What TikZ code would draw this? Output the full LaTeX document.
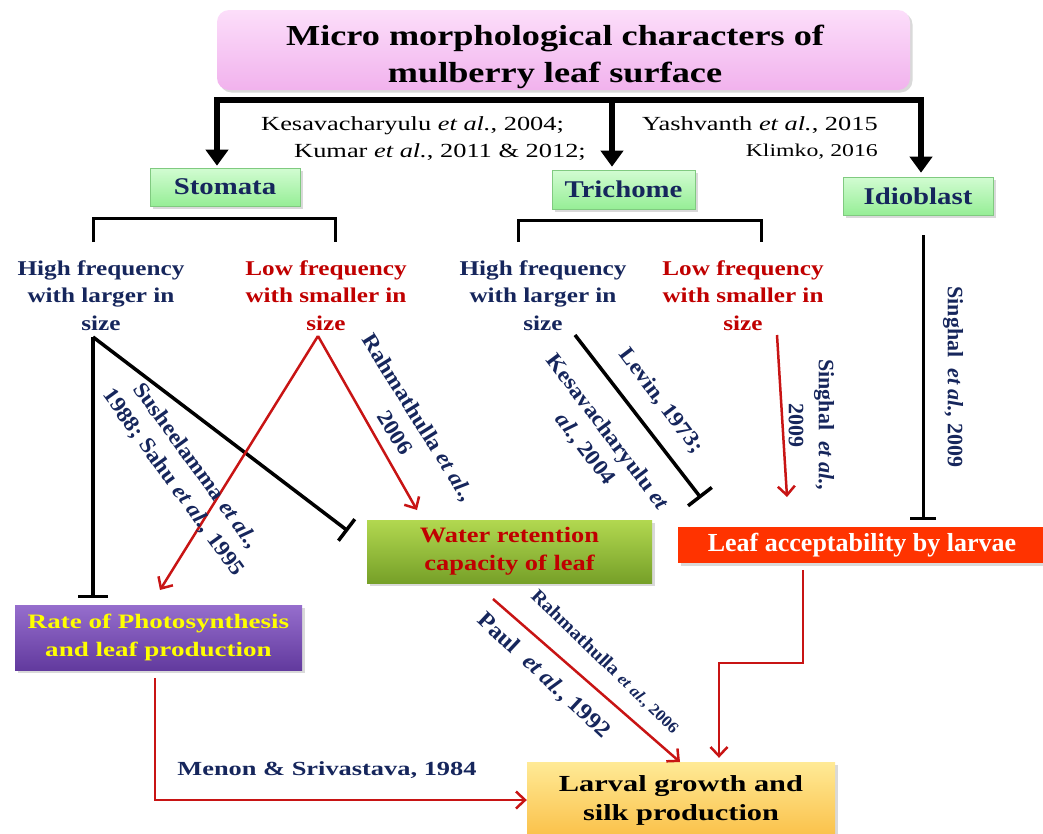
\documentclass[tikz,border=0pt]{standalone}
\usepackage{fontspec}
\setmainfont{Liberation Serif}
\newfontfamily\wideA{Liberation Serif}[FakeStretch=1.32]
\newfontfamily\wideB{Liberation Serif}[FakeStretch=1.2]
\newfontfamily\wideT{Liberation Serif}[FakeStretch=1.25]
\newfontfamily\rotf{Liberation Serif}[FakeStretch=1.08]
\usetikzlibrary{arrows.meta,shadows}
\definecolor{navy}{RGB}{22,38,92}
\definecolor{dred}{RGB}{192,0,0}
\definecolor{arrred}{RGB}{200,20,20}
\definecolor{pinkT}{RGB}{252,222,250}
\definecolor{pinkB}{RGB}{241,178,237}
\definecolor{grT}{RGB}{210,252,210}
\definecolor{grB}{RGB}{150,238,150}
\definecolor{olT}{RGB}{178,216,80}
\definecolor{olB}{RGB}{118,160,40}
\definecolor{puT}{RGB}{150,110,205}
\definecolor{puB}{RGB}{98,58,158}
\definecolor{orT}{RGB}{255,234,150}
\definecolor{orB}{RGB}{250,192,72}
\definecolor{leafred}{RGB}{255,51,0}
\definecolor{yel}{RGB}{255,255,0}
\tikzset{
  shad/.style={drop shadow={opacity=0.3,shadow xshift=2.5pt,shadow yshift=-2.5pt}},
  box/.style={inner sep=0pt,align=center,shad},
  titlebox/.style={box,rounded corners=12pt,top color=pinkT,bottom color=pinkB},
  gbox/.style={box,top color=grT,bottom color=grB,draw=grB!85!black,line width=0.6pt,
    text=navy,font=\wideB\bfseries\fontsize{24}{26}\selectfont},
  freq/.style={inner sep=0pt,align=center,anchor=north,
    font=\wideB\bfseries\fontsize{21}{27.5}\selectfont},
  cite/.style={inner sep=0pt,font=\wideA\fontsize{20}{24}\selectfont},
  rotlab/.style={inner sep=0pt,align=center,text=navy,
    font=\rotf\bfseries\fontsize{22}{28}\selectfont},
  bigbar/.style={line width=6pt,draw=black},
  blk/.style={line width=3.5pt,draw=black},
  tbar/.style={-{Bar[width=30pt,line width=3.5pt]}},
  bracket/.style={line width=3pt,draw=black},
  redarr/.style={line width=2.5pt,draw=arrred,-{Straight Barb[length=9pt,width=17pt,line width=2.5pt]}}
}
\begin{document}
\begin{tikzpicture}[x=1pt,y=-1pt]
\useasboundingbox (0,0) rectangle (1043,833);

% title
\node[titlebox,minimum width=693pt,minimum height=80pt] (titlebg) at (563.5,50) {};
\node[inner sep=0pt,align=center,font=\wideT\bfseries\fontsize{29}{37}\selectfont,anchor=base]
  (title) at (555,82) {Micro morphological characters of\\mulberry leaf surface};

% top bar and arrows
\coordinate (bL) at (217,100);
\coordinate (bM) at (612,100);
\coordinate (bR) at (921,100);

% category boxes
\node[gbox,minimum width=150pt,minimum height=38pt] (stom) at (225,187) {Stomata};
\node[gbox,minimum width=143pt,minimum height=39pt] (tric) at (623.5,189.5) {Trichome};
\node[gbox,minimum width=150pt,minimum height=38pt] (idio) at (918,196) {Idioblast};

\draw[bigbar,{Triangle[width=22pt,length=16pt]}-{Triangle[width=22pt,length=16pt]},shorten <=2pt,shorten >=4pt]
  (bL |- stom.north) -- (bL) -- (bR) -- (bR |- idio.north);
\draw[bigbar,-{Triangle[width=22pt,length=16pt]},shorten >=3pt] (bM) -- (bM |- tric.north);

% citations
\node[cite,anchor=base west] (c1) at (261,130) {Kesavacharyulu \textit{et al.}, 2004;};
\node[cite,anchor=base east] (c2) at (586,157) {Kumar \textit{et al.}, 2011 \& 2012;};
\node[cite,anchor=base east] (c3) at (878,130) {Yashvanth \textit{et al.}, 2015};
\node[cite,anchor=base east,font=\wideA\fontsize{18}{22}\selectfont] (c4) at (878,156) {Klimko, 2016};

% brackets
\coordinate (sbL) at (93,242);
\coordinate (sbR) at (335,242);
\coordinate (tbL) at (518,242);
\coordinate (tbR) at (761,242);
\draw[bracket] (sbL) -- ++(0,-24) -| (sbR);
\draw[bracket] (tbL) -- ++(0,-22) -| (tbR);

% frequency texts
\node[freq,text=navy] (shi) at (101,260.5) {High frequency\\with larger in\\size};
\node[freq,text=dred] (slo) at (326,260.5) {Low frequency\\with smaller in\\size};
\node[freq,text=navy] (thi) at (543,260.5) {High frequency\\with larger in\\size};
\node[freq,text=dred] (tlo) at (743,260.5) {Low frequency\\with smaller in\\size};

% effect boxes
\node[box,top color=olT,bottom color=olB,minimum width=285pt,minimum height=63pt,text=dred,
  font=\wideB\bfseries\fontsize{22}{28}\selectfont] (water) at (509.5,551.5)
  {Water retention\\capacity of leaf};
\node[box,fill=leafred,minimum width=368pt,minimum height=36pt,text=white,
  font=\bfseries\fontsize{26}{28}\selectfont] (leaf) at (862,545)
  {Leaf acceptability by larvae};
\node[box,top color=puT,bottom color=puB,minimum width=287pt,minimum height=65pt,text=yel,
  font=\wideA\bfseries\fontsize{20.5}{28}\selectfont] (photo) at (158.5,637.5)
  {Rate of Photosynthesis\\and leaf production};
\node[box,top color=orT,bottom color=orB,minimum width=308pt,minimum height=76pt,text=black,
  font=\wideA\bfseries\fontsize{23}{29}\selectfont] (larval) at (681,800)
  {Larval growth and\\silk production};

% connector points
\coordinate (sHi) at (93,337);
\coordinate (sLo) at (318,336);
\coordinate (tHi) at (575,335);
\coordinate (tLo) at (777,335);
\coordinate (sHiV) at (93,598);
\coordinate (sHiD) at (348,531);
\coordinate (sLoA) at (160,590);
\coordinate (sLoB) at (417,510);
\coordinate (tHiE) at (701,498);
\coordinate (tLoE) at (787,497);
\coordinate (iTop) at (923,235);
\coordinate (iEnd) at (923,520);
\coordinate (wS) at (493,599);
\coordinate (wE) at (680,762);
\coordinate (lk1) at (803,663);
\coordinate (lk2) at (719,663);
\coordinate (pk) at (155,800);

% stomata connectors
\draw[blk,tbar] (sHi) -- (sHiV);
\draw[blk,-{Bar[width=27pt,line width=3.5pt]}] (sHi) -- (sHiD);
\draw[redarr] (sLo) -- (sLoA);
\draw[redarr] (sLo) -- (sLoB);
% trichome connectors
\draw[blk,tbar] (tHi) -- (tHiE);
\draw[redarr] (tLo) -- (tLoE);
% idioblast
\draw[line width=3pt,-{Bar[width=26pt,line width=3pt]}] (iTop) -- (iEnd);

% to larval growth
\draw[redarr] (photo.south -| pk) ++(0,8) -- (pk) -- (pk -| larval.west);
\draw[redarr,shorten >=4pt] (leaf.south -| lk1) ++(0,7) -- (lk1) -- (lk2) -- (lk2 |- larval.north);
\draw[redarr] (wS) -- (wE);

% rotated labels
\node[rotlab,rotate=-54] (l1) at (184.5,474.5)
  {Susheelamma \textit{et al.,}\\1988; Sahu \textit{et al.,} 1995};
\node[rotlab,rotate=-58] (l2) at (407,425) {Rahmathulla \textit{et al.,}\\2006};
\node[rotlab,rotate=-53] (l3) at (661,401) {Levin, 1973;};
\node[rotlab,rotate=-53] (l4) at (596,441) {Kesavacharyulu \textit{et}\\\textit{al.}, 2004};
\node[rotlab,rotate=-90,font=\bfseries\fontsize{22}{30}\selectfont] (l5) at (811.5,425)
  {Singhal\ \ \textit{et al.,}\\2009};
\node[rotlab,rotate=-90,font=\bfseries\fontsize{22}{28}\selectfont] (l6) at (953,377)
  {Singhal\ \ \textit{et al.,} 2009};
\node[rotlab,rotate=-44,font=\rotf\bfseries\fontsize{19}{22}\selectfont] (l7) at (605,662)
  {Rahmathulla {\fontsize{16}{18}\selectfont\textit{et al.}, 2006}};
\node[rotlab,rotate=-43,font=\rotf\bfseries\fontsize{23}{28}\selectfont] (l8) at (544,676)
  {Paul\ \ \textit{et al.}, 1992};
\node[inner sep=0pt,anchor=base,text=navy,font=\wideA\bfseries\fontsize{20}{24}\selectfont] (l9)
  at (327,775) {Menon \& Srivastava, 1984};
\end{tikzpicture}
\end{document}
